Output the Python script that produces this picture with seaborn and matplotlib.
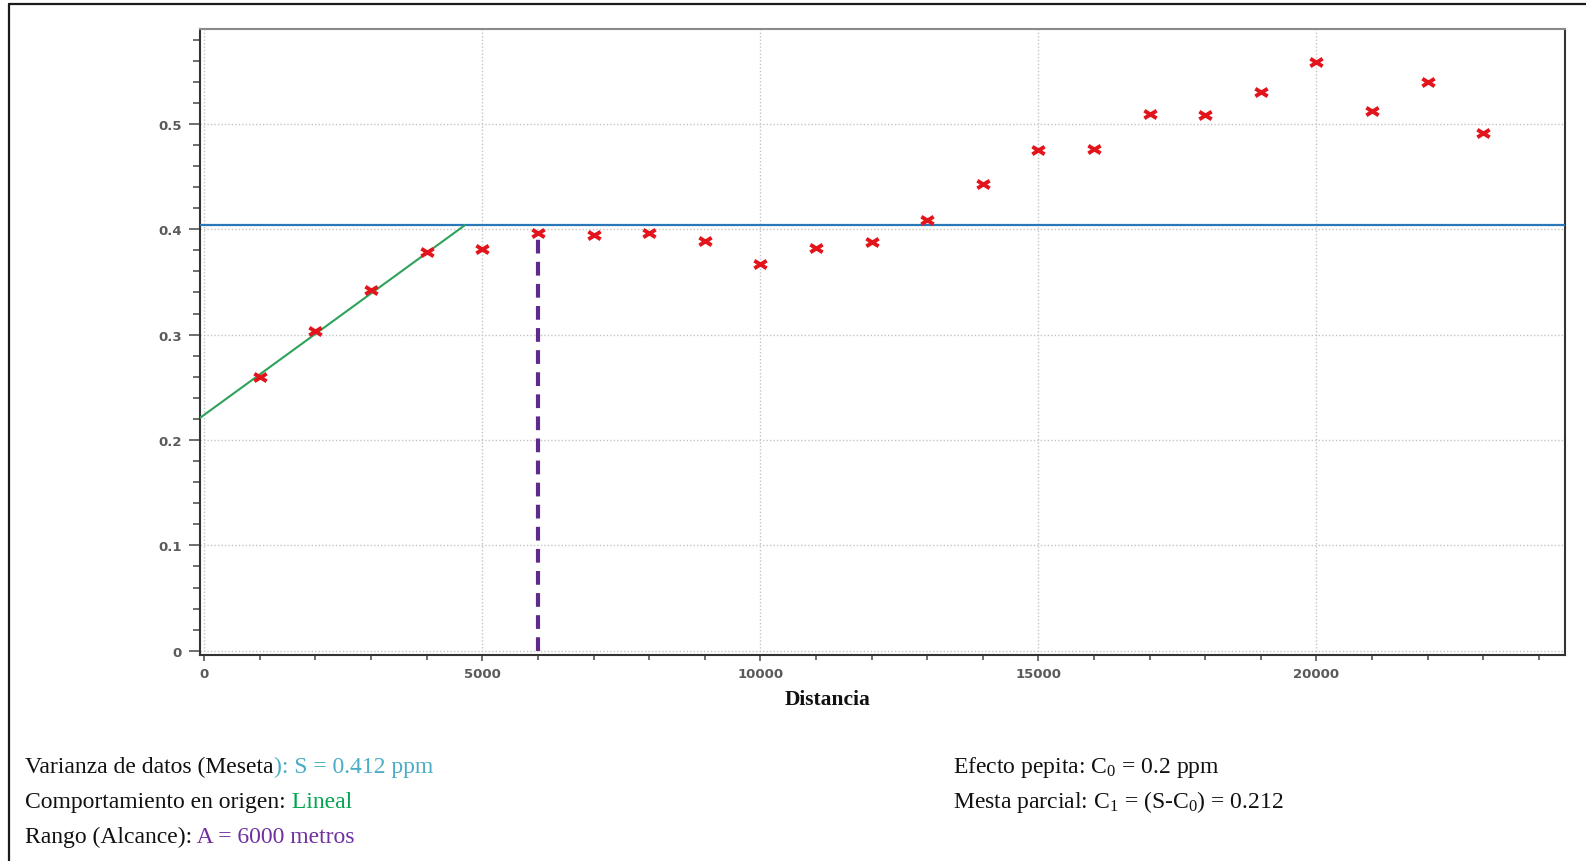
import numpy as np
import pandas as pd
import matplotlib
matplotlib.use("Agg")
import matplotlib.pyplot as plt
import seaborn as sns
from matplotlib.path import Path
from matplotlib.lines import Line2D
from matplotlib.ticker import MultipleLocator

# ---------------- data ----------------
distancia = [1000, 2000, 3000, 4000, 5000, 6000, 7000, 8000, 9000, 10000, 11000, 12000,
             13000, 14000, 15000, 16000, 17000, 18000, 19000, 20000, 21000, 22000, 23000]
semivarianza = [0.260, 0.303, 0.342, 0.378, 0.381, 0.396, 0.395, 0.396, 0.389, 0.367, 0.3825, 0.388,
                0.409, 0.443, 0.475, 0.4765, 0.509, 0.508, 0.530, 0.559, 0.512, 0.540, 0.491]
meseta = 0.404
lineal_x = [-77, 4690]
lineal_y = [0.221, 0.404]
alcance_x = [6000, 6000]
alcance_y = [0.0, 0.397]
x_ticks = [0, 5000, 10000, 15000, 20000]
y_ticks = [0.0, 0.1, 0.2, 0.3, 0.4, 0.5]
y_ticklabels = ["0", "0.1", "0.2", "0.3", "0.4", "0.5"]
xlabel = "Distancia"

W, H = 1586, 862
sns.set_theme(style="ticks")
plt.rcParams["font.family"] = ["DejaVu Sans"]
plt.rcParams["mathtext.default"] = "regular"

fig = plt.figure(figsize=(W / 100, H / 100), dpi=100)
fig.patch.set_facecolor("white")
ax = fig.add_axes([200 / W, 1 - 656 / H, (1565 - 200) / W, (656 - 30) / H])

ax.set_xlim(-77, 24470)
ax.set_ylim(-0.004, 0.590)

# grid
ax.grid(True, which="major", linestyle=(0, (1, 1.5)), color="#c4c4c4", linewidth=1.0)
ax.set_axisbelow(True)

# lines
ax.axhline(meseta, color="#2a78b8", linewidth=1.6, zorder=3)
df_lin = pd.DataFrame({"x": lineal_x, "y": lineal_y})
sns.lineplot(data=df_lin, x="x", y="y", ax=ax, color="#2da35a", linewidth=1.5,
             estimator=None, sort=False, zorder=3)
df_alc = pd.DataFrame({"x": alcance_x, "y": alcance_y})
sns.lineplot(data=df_alc, x="x", y="y", ax=ax, color="#5e2b8c", linewidth=3.0,
             estimator=None, sort=False, zorder=3, dashes=False)
ax.lines[-1].set_dashes((3.3, 2.0))

# markers
xmark = Path([(-1, -0.62), (1, 0.62), (-1, 0.62), (1, -0.62)],
             [Path.MOVETO, Path.LINETO, Path.MOVETO, Path.LINETO])
df_pts = pd.DataFrame({"d": distancia, "g": semivarianza})
sns.scatterplot(data=df_pts, x="d", y="g", ax=ax, marker=xmark, s=78,
                color="#e3151c", edgecolor="#e3151c", linewidth=2.8, zorder=4)

# ticks
ax.set_xticks(x_ticks)
ax.set_xticklabels([str(v) for v in x_ticks])
ax.set_yticks(y_ticks)
ax.set_yticklabels(y_ticklabels)
ax.xaxis.set_minor_locator(MultipleLocator(1000))
ax.yaxis.set_minor_locator(MultipleLocator(0.02))
ax.tick_params(axis="y", which="major", length=8, width=1.2, color="#555555", pad=5)
ax.tick_params(axis="y", which="minor", length=5, width=1.2, color="#555555")
ax.tick_params(axis="x", which="major", length=4.5, width=1.2, color="#555555", pad=4)
ax.tick_params(axis="x", which="minor", length=3.5, width=1.2, color="#555555")
for lab in ax.get_xticklabels() + ax.get_yticklabels():
    lab.set_fontsize(9.5)
    lab.set_fontweight("bold")
    lab.set_color("#5a5a5a")
ax.set_xlabel("")
ax.set_ylabel("")

for side in ["left", "bottom", "right"]:
    ax.spines[side].set_color("#333333")
    ax.spines[side].set_linewidth(1.5)
ax.spines["top"].set_color("#8a8a8a")
ax.spines["top"].set_linewidth(1.5)
ax.spines["top"].set_visible(True)
ax.spines["right"].set_visible(True)

# axis label
fig.text(828 / W, 1 - 700 / H, xlabel, fontsize=15.5, fontweight="bold",
         family=["Liberation Serif", "DejaVu Serif"], ha="center", va="center", color="#111111")

# figure frame (top and left)
fig.add_artist(Line2D([9 / W, 1], [1 - 5 / H, 1 - 5 / H], transform=fig.transFigure,
                      color="#1a1a1a", linewidth=1.6))
fig.add_artist(Line2D([9 / W, 9 / W], [0, 1 - 5 / H], transform=fig.transFigure,
                      color="#1a1a1a", linewidth=1.6))

# annotation texts
serif = ["Liberation Serif", "DejaVu Serif"]
fs = 17
renderer = fig.canvas.get_renderer()


def colored_line(x_px, y_px, parts):
    x = x_px
    for s, c in parts:
        t = fig.text(x / W, 1 - y_px / H, s, color=c, fontsize=fs, family=serif,
                     ha="left", va="baseline")
        bb = t.get_window_extent(renderer)
        x = bb.x1


black = "#111111"
colored_line(25, 773, [("Varianza de datos (Meseta", black), ("): S = 0.412 ppm", "#4bacc6")])
colored_line(25, 808, [("Comportamiento en origen:", black), (" Lineal", "#00a550")])
colored_line(25, 843, [("Rango (Alcance):", black), (" A = 6000 metros", "#7030a0")])
colored_line(953, 773, [("Efecto pepita: C$_0$ = 0.2 ppm", black)])
colored_line(953, 808, [("Mesta parcial: C$_1$ = (S-C$_0$) = 0.212", black)])

fig.savefig("out.png", dpi=100, facecolor="white")
